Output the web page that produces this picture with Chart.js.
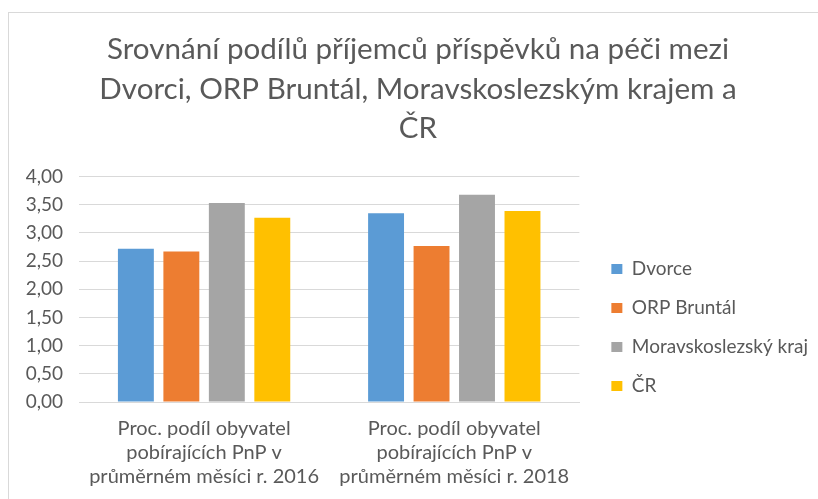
<!DOCTYPE html>
<html><head><meta charset="utf-8">
<script src="https://cdn.jsdelivr.net/npm/chart.js@4.4.1/dist/chart.umd.min.js"></script>
<style>
html,body{margin:0;padding:0;background:#fff;}
#wrap{position:relative;width:818px;height:499px;overflow:hidden;background:#fff;}
#frame{position:absolute;left:8px;top:12px;width:900px;height:600px;border:1px solid #d9d9d9;box-sizing:border-box;}
canvas{position:absolute;left:0;top:0;}
</style></head><body>
<div id="wrap"><div id="frame"></div><canvas id="c" width="818" height="499"></canvas></div>
<script>
const titleLines = ["Srovnání podílů příjemců příspěvků na péči mezi", "Dvorci, ORP Bruntál, Moravskoslezským krajem a", "ČR"];
const categories = [
  ["Proc. podíl obyvatel", "pobírajících PnP v", "průměrném měsíci r. 2016"],
  ["Proc. podíl obyvatel", "pobírajících PnP v", "průměrném měsíci r. 2018"]
];
const seriesNames = ["Dvorce", "ORP Bruntál", "Moravskoslezský kraj", "ČR"];
const dvorce = [2.72, 3.35];
const orpBruntal = [2.67, 2.77];
const msKraj = [3.53, 3.68];
const cr = [3.27, 3.39];
const yMin = 0, yMax = 4, yStep = 0.5;

const colors = ["#5b9bd5", "#ed7d31", "#a5a5a5", "#ffc000"];
const seriesValues = [dvorce, orpBruntal, msKraj, cr];
const FONT = "Lato";
const TXT = "#595959";

new Chart(document.getElementById('c'), {
  type: 'bar',
  data: {
    labels: categories,
    datasets: seriesNames.map((n, i) => ({
      label: n, data: seriesValues[i], backgroundColor: colors[i], borderWidth: 0,
      categoryPercentage: 0.727, barPercentage: 0.79, yAxisID: 'y'
    }))
  },
  options: {
    responsive: false, animation: false, devicePixelRatio: 1,
    layout: { padding: { left: 18, right: 0, top: 0, bottom: 0 } },
    plugins: {
      title: {
        display: true, text: titleLines, color: TXT,
        font: { family: FONT, size: 29.6, weight: 'normal', lineHeight: 1.33 },
        padding: { top: 30, bottom: 28.5 }
      },
      legend: {
        position: 'right', align: 'start', maxWidth: 400,
        title: { display: true, text: ' ', font: { size: 10, lineHeight: 1 }, padding: { top: 229.5, bottom: 0 } },
        labels: { color: TXT, font: { family: FONT, size: 19 }, boxWidth: 11, boxHeight: 10, padding: 20 }
      },
      tooltip: { enabled: false }
    },
    scales: {
      x: {
        grid: { display: false },
        border: { color: '#d9d9d9' },
        ticks: { color: TXT, font: { family: FONT, size: 20, lineHeight: 1.2 }, padding: 7, maxRotation: 0 },
        afterFit: s => { s.height = 97; }
      },
      y: {
        min: yMin, max: yMax,
        grid: { color: '#d9d9d9', drawTicks: false },
        border: { display: false },
        ticks: {
          stepSize: yStep, color: TXT, font: { family: FONT, size: 19 }, padding: 16,
          callback: v => v.toFixed(2).replace('.', ',')
        },
        afterFit: s => { s.width = 61; }
      },
      yPad: {
        type: 'linear', position: 'right', display: true,
        grid: { display: false }, border: { display: false }, ticks: { display: false },
        afterFit: s => { s.width = 12; }
      }
    }
  }
});
</script>
</body></html>
